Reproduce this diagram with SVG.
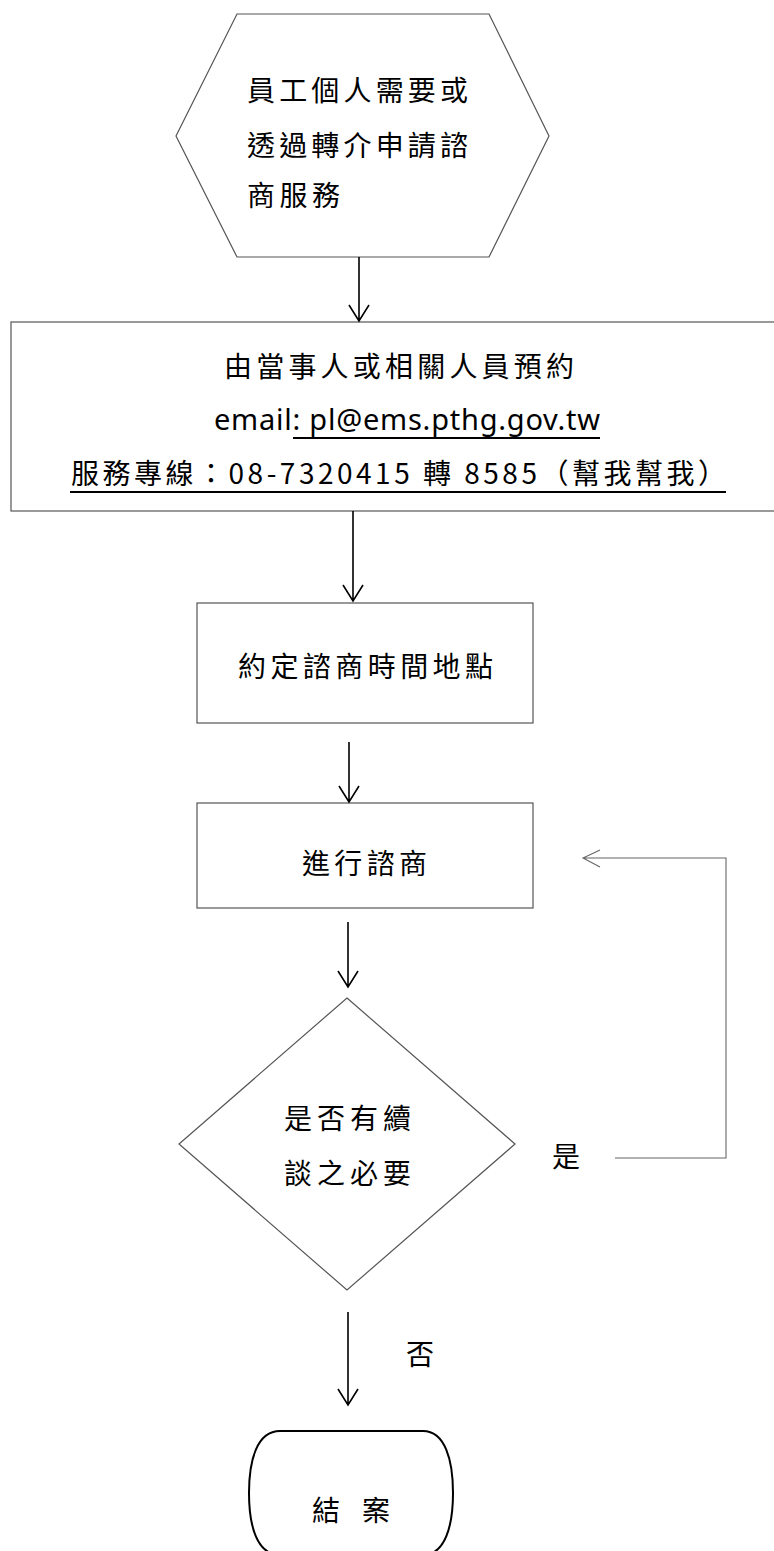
<svg xmlns="http://www.w3.org/2000/svg" width="774" height="1551" viewBox="0 0 774 1551">
<style>
.node{fill:#fff;stroke:#555;stroke-width:1.2}
.t{font-family:"Noto Sans CJK TC","Noto Sans CJK SC",sans-serif;font-size:28px;fill:#000}
.lt{font-family:"Noto Sans","Noto Sans CJK TC",sans-serif;font-size:29px;fill:#000}
.arr{stroke:#000;stroke-width:1.6;fill:none}
.thin{stroke:#666;stroke-width:1.1;fill:none}
.ul{stroke:#000;stroke-width:2}
</style>
<rect width="774" height="1551" fill="#fff"/>
<g id="start">
<polygon class="node" points="237,14 489,14 549,136 489,257 237,257 176,136"/>
<text class="t" x="247" y="101" textLength="221" lengthAdjust="spacing">員工個人需要或</text>
<text class="t" x="247" y="156" textLength="221" lengthAdjust="spacing">透過轉介申請諮</text>
<text class="t" x="247" y="206" textLength="93" lengthAdjust="spacing">商服務</text>
</g>
<g id="appointment">
<rect class="node" x="11" y="322" width="775" height="189"/>
<text class="t" x="224" y="377" textLength="350" lengthAdjust="spacing">由當事人或相關人員預約</text>
<text class="lt" x="214" y="430" textLength="386" lengthAdjust="spacing">email: pl@ems.pthg.gov.tw</text>
<line class="ul" x1="293" y1="438" x2="600" y2="438" stroke-width="1.6"/>
<text class="t" x="71" y="484" textLength="655" lengthAdjust="spacing">服務專線：08-7320415 轉 8585（幫我幫我）</text>
<line class="ul" x1="70" y1="492" x2="726" y2="492"/>
</g>
<g id="schedule">
<rect class="node" x="197" y="603" width="336" height="120"/>
<text class="t" x="238" y="677" textLength="255" lengthAdjust="spacing">約定諮商時間地點</text>
</g>
<g id="counsel">
<rect class="node" x="197" y="803" width="336" height="105"/>
<text class="t" x="302" y="874" textLength="125" lengthAdjust="spacing">進行諮商</text>
</g>
<g id="decision">
<polygon class="node" points="347,998 515,1144 347,1290 179,1144"/>
<text class="t" x="284" y="1129" textLength="127" lengthAdjust="spacing">是否有續</text>
<text class="t" x="284" y="1184" textLength="127" lengthAdjust="spacing">談之必要</text>
</g>
<g id="end">
<path d="M280 1431 H423 C445 1431 453 1460 453 1493 C453 1526 445 1555 423 1555 H280 C257 1555 249 1526 249 1493 C249 1460 257 1431 280 1431 Z" fill="#fff" stroke="#000" stroke-width="2"/>
<text class="t" x="312" y="1521">結</text>
<text class="t" x="362" y="1521">案</text>
</g>
<g id="connectors">
<path class="arr" d="M359 257 V321 M349 305 L359 321 L369 305"/>
<path class="arr" d="M353 511 V601 M343 585 L353 601 L363 585"/>
<path class="arr" d="M349 742 V802 M339 786 L349 802 L359 786"/>
<path class="arr" d="M348 922 V987 M338 971 L348 987 L358 971"/>
<path class="arr" d="M348 1312 V1405 M338 1389 L348 1405 L358 1389"/>
<path class="thin" d="M615 1158 H726 V858 H583 M600 850 L583 858 L600 867"/>
<text class="t" x="552" y="1167">是</text>
<text class="t" x="406" y="1365">否</text>
</g>
</svg>
